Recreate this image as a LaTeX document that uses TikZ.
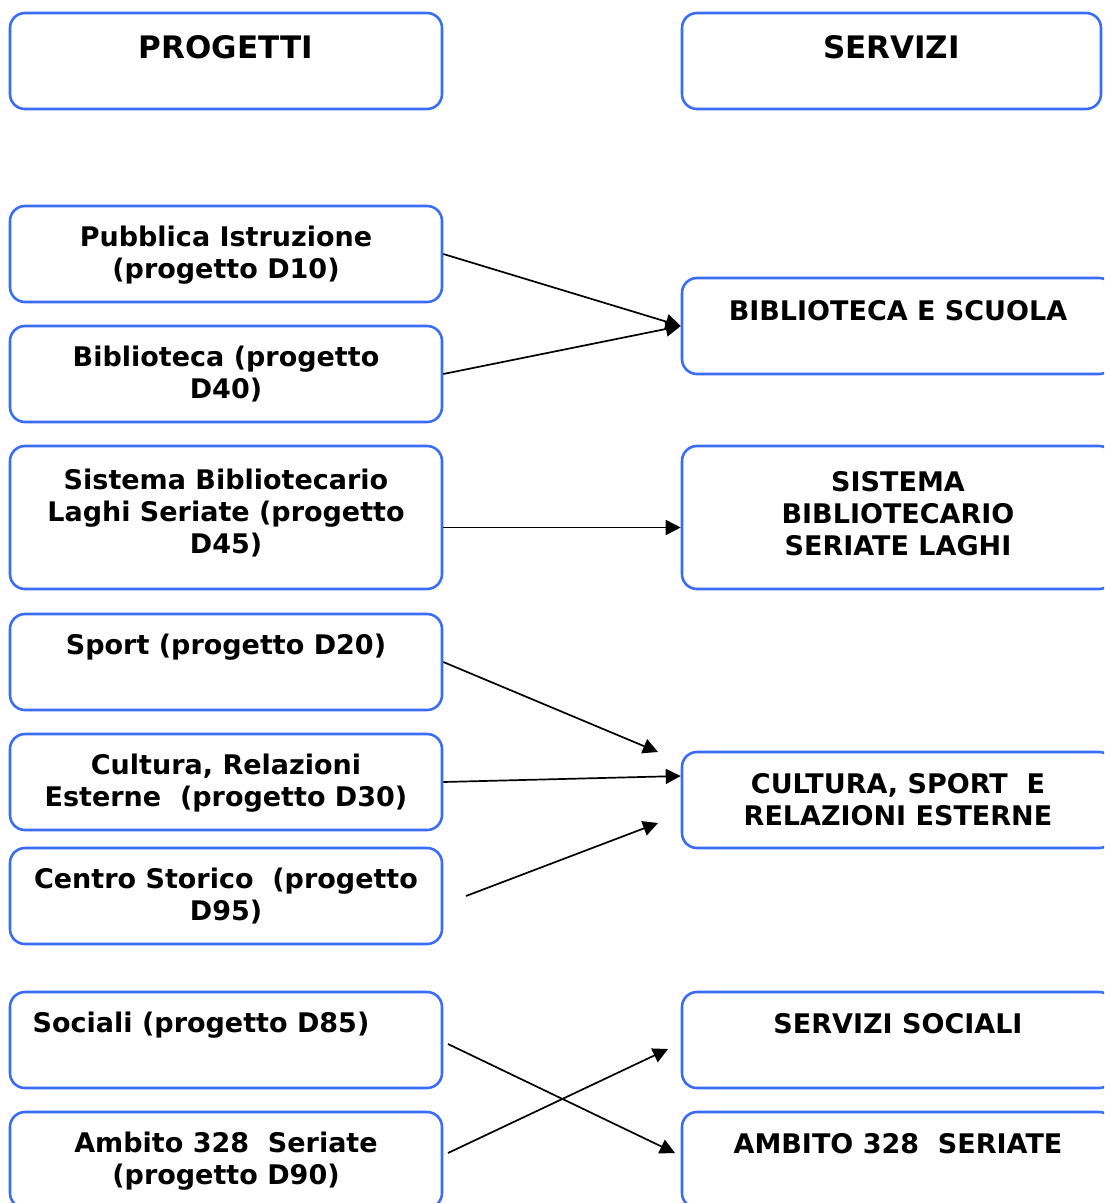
\documentclass[tikz,border=0pt]{standalone}
\usepackage{fontspec}
\setmainfont{DejaVu Sans}
\usetikzlibrary{shapes,arrows.meta}
\definecolor{boxblue}{RGB}{58,108,246}

\begin{document}
\begin{tikzpicture}[x=0.5pt,y=-0.5pt]
        \tikzstyle{box}=[rectangle,rounded corners=7.5pt,draw=boxblue,line width=1.3pt,minimum width=216pt,minimum height=48pt,inner sep=0pt]
        \tikzstyle{tallbox}=[box,minimum height=71.5pt]
        \tikzstyle{txt}=[anchor=north,align=center,inner sep=0pt,font=\bfseries\fontsize{13.5}{16}\selectfont]
        \tikzstyle{head}=[txt,font=\bfseries\fontsize{15.5}{18}\selectfont]
        \tikzstyle{arr}=[-{Triangle[length=7.5pt,width=7.5pt]},line width=0.85pt]
        \useasboundingbox (0,0) rectangle (1104,1203);
        \clip (0,0) rectangle (1104,1203);
        % progetti
        \node[box] (prog) at (226,61) {};
        \node[box] (pi) at (226,254) {};
        \node[box] (bib) at (226,374) {};
        \node[tallbox] (sbl) at (226,517.5) {};
        \node[box] (spo) at (226,662) {};
        \node[box] (cul) at (226,782) {};
        \node[box] (cst) at (226,896) {};
        \node[box] (soc) at (226,1040) {};
        \node[box] (amb) at (226,1160) {};
        % servizi
        \node[box,minimum width=209.5pt] (serv) at (891.5,61) {};
        \node[box] (bes) at (898,326) {};
        \node[tallbox] (sist) at (898,517.5) {};
        \node[box] (csre) at (898,800) {};
        \node[box] (ssoc) at (898,1040) {};
        \node[box] (amb2) at (898,1160) {};
        % testi
        \node[head] (progT) at ([yshift=-11.5pt]prog.north) {PROGETTI};
        \node[txt] (piT) at ([yshift=-10.5pt]pi.north) {Pubblica Istruzione\\(progetto D10)};
        \node[txt] (bibT) at ([yshift=-10.5pt]bib.north) {Biblioteca (progetto\\D40)};
        \node[txt] (sblT) at ([yshift=-12pt]sbl.north) {Sistema Bibliotecario\\Laghi Seriate (progetto\\D45)};
        \node[txt] (spoT) at ([yshift=-10.5pt]spo.north) {Sport (progetto D20)};
        \node[txt] (culT) at ([yshift=-10.5pt]cul.north) {Cultura, Relazioni\\Esterne~ (progetto D30)};
        \node[txt] (cstT) at ([yshift=-10.5pt]cst.north) {Centro Storico~ (progetto\\D95)};
        \node[txt] (socT) at ([xshift=-12.5pt,yshift=-10.5pt]soc.north) {Sociali (progetto D85)};
        \node[txt] (ambT) at ([yshift=-10.5pt]amb.north) {Ambito 328~ Seriate\\(progetto D90)};
        \node[head] (servT) at ([yshift=-11.5pt]serv.north) {SERVIZI};
        \node[txt] (besT) at ([yshift=-11.5pt]bes.north) {BIBLIOTECA E SCUOLA};
        \node[txt] (sistT) at ([yshift=-13pt]sist.north) {SISTEMA\\BIBLIOTECARIO\\SERIATE LAGHI};
        \node[txt] (csreT) at ([yshift=-11pt]csre.north) {CULTURA, SPORT~ E\\RELAZIONI ESTERNE};
        \node[txt] (ssocT) at ([yshift=-11pt]ssoc.north) {SERVIZI SOCIALI};
        \node[txt] (amb2T) at ([yshift=-11pt]amb2.north) {AMBITO 328~ SERIATE};
        % punti liberi
        \coordinate (e4) at (658,752);
        \coordinate (e5) at ([yshift=12pt]csre.west);
        \coordinate (s6) at (466,896);
        \coordinate (e6) at (658,823);
        \coordinate (s7) at (448,1044);
        \coordinate (e7) at (675,1153);
        \coordinate (s8) at (448,1153);
        \coordinate (e8) at (668,1049);
        % frecce
        \draw[arr] (pi.east) -- (bes.west);
        \draw[arr] (bib.east) -- (bes.west);
        \draw[arr] ([yshift=-5pt]sbl.east) -- ([yshift=-5pt]sist.west);
        \draw[arr] (spo.east) -- (e4);
        \draw[arr] (cul.east) -- (e5);
        \draw[arr] (s6) -- (e6);
        \draw[arr] (s7) -- (e7);
        \draw[arr] (s8) -- (e8);
\end{tikzpicture}
\end{document}
